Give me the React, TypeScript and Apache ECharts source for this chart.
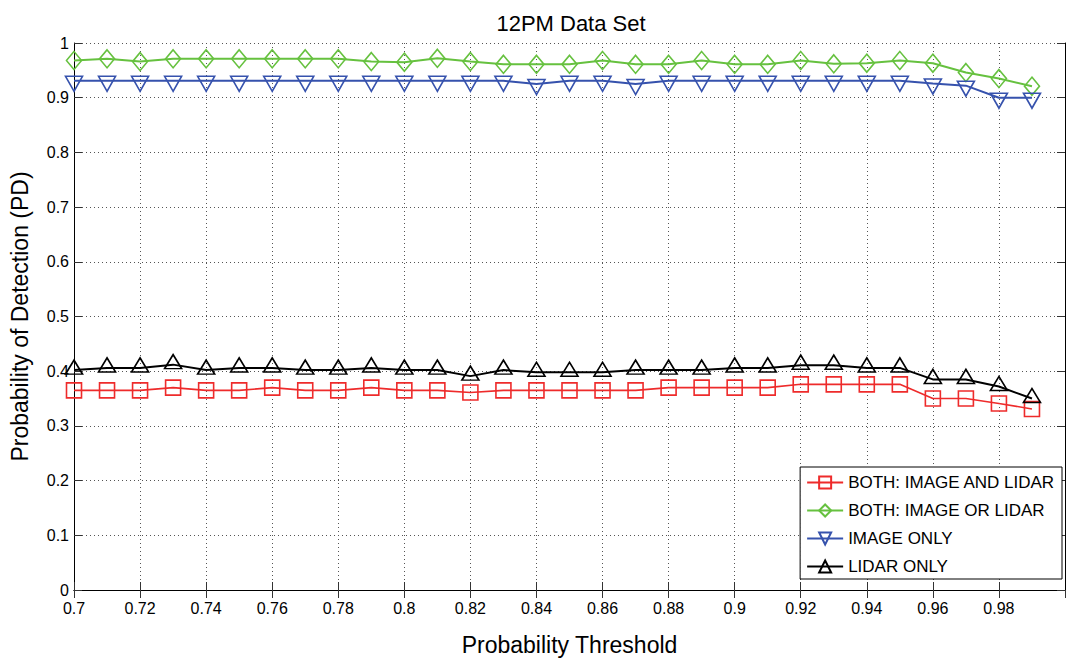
import React, { useEffect, useRef } from "react";
import * as echarts from "echarts";

const thresholds = [
  0.7, 0.71, 0.72, 0.73, 0.74, 0.75, 0.76, 0.77, 0.78, 0.79,
  0.8, 0.81, 0.82, 0.83, 0.84, 0.85, 0.86, 0.87, 0.88, 0.89,
  0.9, 0.91, 0.92, 0.93, 0.94, 0.95, 0.96, 0.97, 0.98, 0.99,
];

const bothAnd = [
  0.365, 0.365, 0.365, 0.37, 0.365, 0.365, 0.37, 0.365, 0.365, 0.37,
  0.365, 0.365, 0.361, 0.365, 0.365, 0.365, 0.365, 0.365, 0.37, 0.37,
  0.37, 0.37, 0.376, 0.376, 0.376, 0.376, 0.35, 0.35, 0.341, 0.331,
];

const bothOr = [
  0.968, 0.971, 0.966, 0.971, 0.971, 0.971, 0.971, 0.971, 0.971, 0.966,
  0.965, 0.972, 0.966, 0.961, 0.961, 0.961, 0.968, 0.961, 0.961, 0.968,
  0.961, 0.961, 0.968, 0.962, 0.963, 0.968, 0.963, 0.946, 0.935, 0.921,
];

const imageOnly = [
  0.931, 0.931, 0.931, 0.931, 0.931, 0.931, 0.931, 0.931, 0.931, 0.931,
  0.931, 0.931, 0.931, 0.931, 0.925, 0.931, 0.931, 0.925, 0.931, 0.931,
  0.931, 0.931, 0.931, 0.931, 0.931, 0.931, 0.926, 0.922, 0.9, 0.9,
];

const lidarOnly = [
  0.402, 0.406, 0.406, 0.412, 0.402, 0.406, 0.406, 0.402, 0.402, 0.406,
  0.402, 0.402, 0.391, 0.402, 0.398, 0.398, 0.398, 0.402, 0.402, 0.402,
  0.406, 0.406, 0.411, 0.411, 0.406, 0.406, 0.385, 0.385, 0.372, 0.35,
];

const seriesNames = [
  "BOTH: IMAGE AND LIDAR",
  "BOTH: IMAGE OR LIDAR",
  "IMAGE ONLY",
  "LIDAR ONLY",
];

const FONT = "'Liberation Sans', Arial, Helvetica, sans-serif";

function pairs(ys: number[]) {
  return thresholds.map((x, i) => [x, ys[i]]);
}

export default function App() {
  const ref = useRef<HTMLDivElement>(null);

  useEffect(() => {
    if (!ref.current) return;
    const chart = echarts.init(ref.current, undefined, { renderer: "svg" });

    const tickStyle = { show: true, inside: true, length: 8, lineStyle: { color: "#333", width: 1 } };
    const axisLine = { show: true, lineStyle: { color: "#000", width: 1 } };

    const mk = (
      name: string,
      data: number[],
      color: string,
      symbol: string,
      size: number | number[],
      width: number,
      rotate = 0,
      offset: number[] = [0, 0]
    ) => ({
      name,
      type: "line",
      data: pairs(data),
      symbol,
      symbolSize: size,
      symbolRotate: rotate,
      symbolOffset: offset,
      showSymbol: true,
      showAllSymbol: true,
      lineStyle: { color, width },
      itemStyle: { color: "rgba(255,255,255,0)", borderColor: color, borderWidth: 1.6 },
      emphasis: { disabled: true },
    });

    chart.setOption({
      animation: false,
      backgroundColor: "#fff",
      textStyle: { fontFamily: FONT },
      title: {
        text: "12PM Data Set",
        left: 566,
        textAlign: "center",
        top: 7,
        textStyle: { fontFamily: FONT, fontSize: 22, fontWeight: "normal", color: "#000" },
      },
      grid: { left: 67, right: 2, top: 43, bottom: 72, containLabel: false },
      legend: {
        data: seriesNames,
        orient: "vertical",
        right: 5,
        bottom: 83,
        backgroundColor: "#fff",
        borderColor: "#000",
        borderWidth: 1,
        borderRadius: 0,
        padding: [7, 7, 4, 6],
        itemGap: 11,
        itemWidth: 36,
        itemHeight: 15,
        textStyle: { fontFamily: FONT, fontSize: 17, color: "#000" },
      },
      xAxis: [
        {
          type: "value",
          min: 0.7,
          max: 1.0,
          interval: 0.02,
          position: "bottom",
          name: "Probability Threshold",
          nameLocation: "middle",
          nameGap: 43,
          nameTextStyle: { fontFamily: FONT, fontSize: 23, color: "#000" },
          axisLine,
          axisTick: tickStyle,
          axisLabel: { fontFamily: FONT, fontSize: 16, color: "#000", margin: 10, showMaxLabel: false },
          splitLine: { show: true, lineStyle: { color: "#555", type: [1, 3], width: 1 } },
        },
        {
          type: "value",
          min: 0.7,
          max: 1.0,
          interval: 0.02,
          position: "top",
          axisLine,
          axisTick: tickStyle,
          axisLabel: { show: false },
          splitLine: { show: false },
        },
      ],
      yAxis: [
        {
          type: "value",
          min: 0,
          max: 1,
          interval: 0.1,
          position: "left",
          name: "Probability of Detection (PD)",
          nameLocation: "middle",
          nameGap: 43,
          nameTextStyle: { fontFamily: FONT, fontSize: 23, color: "#000" },
          axisLine,
          axisTick: tickStyle,
          axisLabel: { fontFamily: FONT, fontSize: 16, color: "#000", margin: 5 },
          splitLine: { show: true, lineStyle: { color: "#555", type: [1, 3], width: 1 } },
        },
        {
          type: "value",
          min: 0,
          max: 1,
          interval: 0.1,
          position: "right",
          axisLine,
          axisTick: tickStyle,
          axisLabel: { show: false },
          splitLine: { show: false },
        },
      ],
      series: [
        mk(seriesNames[0], bothAnd, "#ee2b2b", "rect", 15, 1.6),
        mk(seriesNames[1], bothOr, "#66c13f", "diamond", [15, 18], 2),
        mk(seriesNames[2], imageOnly, "#3652ad", "triangle", [17, 15], 2, 180, [0, 3]),
        mk(seriesNames[3], lidarOnly, "#000000", "triangle", [17, 14], 2, 0, [0, -3]),
      ],
    });

    return () => chart.dispose();
  }, []);

  return (
    <div
      ref={ref}
      style={{ position: "fixed", left: 0, top: 0, width: 1067, height: 662, background: "#fff" }}
    />
  );
}
